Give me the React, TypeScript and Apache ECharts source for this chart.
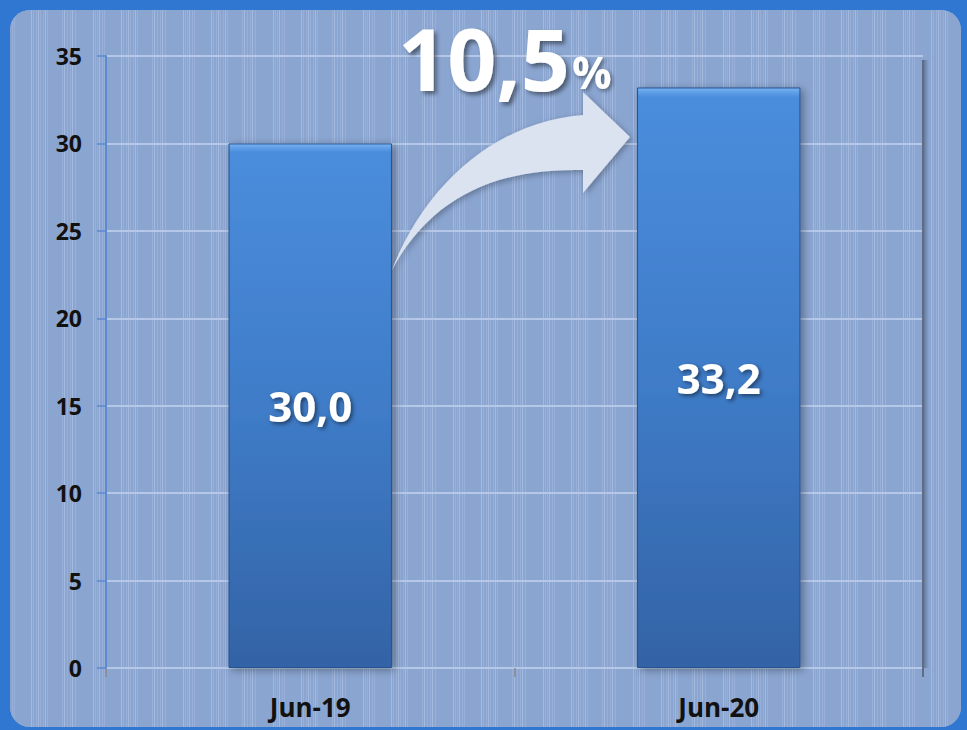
import React, { useEffect, useRef } from "react";
import * as echarts from "echarts";

const categories = ["Jun-19", "Jun-20"];
const values = [30.0, 33.2];
const yMin = 0;
const yMax = 35;
const yStep = 5;
const growthValue = "10,5";
const growthUnit = "%";

const arrowPath =
  "M392,270 C425,185 495,122 583,115 L583,92 L630,137 L583,193 L583,170 C500,168 432,195 392,270 Z";
echarts.graphic.registerShape("growthArrow", echarts.graphic.extendPath(arrowPath, {}) as any);

// background texture: offsets (px) of thin light lines inside one 90px repeat
const stripeOffsets = [3, 5, 7, 9, 12, 14, 31, 33, 36, 38, 40, 43, 45, 47, 62, 64, 67, 70, 72, 75];
const stripeRepeat = 90;

function makeStripes(): string | null {
  try {
    const c = document.createElement("canvas");
    c.width = stripeRepeat;
    c.height = 4;
    const ctx = c.getContext("2d");
    if (!ctx) return null;
    ctx.fillStyle = "#8aa5d0";
    ctx.fillRect(0, 0, stripeRepeat, 4);
    stripeOffsets.forEach((x, i) => {
      ctx.fillStyle = i % 3 === 0 ? "#a3b9de" : "#98b0d9";
      ctx.fillRect(x, 0, 1, 4);
    });
    return c.toDataURL();
  } catch (e) {
    return null;
  }
}

const fmt = (v: number) => v.toFixed(1).replace(".", ",");

export default function App() {
  const ref = useRef<HTMLDivElement>(null);
  useEffect(() => {
    if (!ref.current) return;
    const chart = echarts.init(ref.current, null, { renderer: "svg" });
    const font = "'Open Sans', 'Liberation Sans', sans-serif";
    const stripes = makeStripes();
    const panelFill: any = stripes ? { image: stripes, repeat: "repeat" } : "#8ca7d2";
    const textShadow = {
      textShadowColor: "rgba(0,0,0,0.45)",
      textShadowBlur: 4,
      textShadowOffsetX: 3,
      textShadowOffsetY: 3,
    };
    chart.setOption({
      animation: false,
      backgroundColor: "#2f77d1",
      textStyle: { fontFamily: font },
      grid: { left: 106, top: 56, right: 44, bottom: 62, containLabel: false },
      graphic: [
        {
          id: "panelBase",
          type: "rect",
          z: -10,
          silent: true,
          shape: { x: 10, y: 10, width: 951, height: 717, r: 20 },
          style: { fill: "#8aa5d0" },
        },
        {
          id: "panelTexture",
          type: "rect",
          z: -9,
          silent: true,
          shape: { x: 10, y: 10, width: 951, height: 717, r: 20 },
          style: { fill: panelFill },
        },
        {
          id: "arrow",
          type: "growthArrow",
          x: 0,
          y: 0,
          z: 20,
          style: {
            fill: "#dbe2f0",
            shadowBlur: 6,
            shadowColor: "rgba(0,0,0,0.3)",
            shadowOffsetX: 2,
            shadowOffsetY: 2,
          },
        },
        {
          id: "growth",
          type: "text",
          x: 398,
          y: 57,
          z: 20,
          style: {
            text: `{a|${growthValue}}{b|${growthUnit}}`,
            verticalAlign: "middle",
            align: "left",
            rich: {
              a: {
                fontSize: 86,
                fontWeight: "bold",
                fill: "#ffffff",
                fontFamily: font,
                ...textShadow,
                verticalAlign: "bottom",
              },
              b: {
                fontSize: 44,
                fontWeight: "bold",
                fill: "#ffffff",
                fontFamily: font,
                ...textShadow,
                textShadowOffsetX: 2,
                textShadowOffsetY: 2,
                verticalAlign: "bottom",
                padding: [0, 0, 6, 2],
              },
            },
          },
        },
      ],
      xAxis: {
        type: "category",
        data: categories,
        axisLine: {
          show: true,
          lineStyle: {
            color: "#7b7b7b",
            width: 2,
            shadowColor: "rgba(0,0,0,0.35)",
            shadowBlur: 4,
            shadowOffsetY: 3,
          },
        },
        axisTick: { show: true, length: 9, lineStyle: { color: "#8a8a8a", width: 1.5 } },
        axisLabel: {
          color: "#111111",
          fontSize: 26,
          fontWeight: "bold",
          fontFamily: font,
          margin: 26,
        },
      },
      yAxis: {
        type: "value",
        min: yMin,
        max: yMax,
        interval: yStep,
        axisLine: { show: true, onZero: false, lineStyle: { color: "#5b8ad0", width: 2 } },
        axisTick: { show: true, length: 9, lineStyle: { color: "#5b8ad0", width: 1.5 } },
        axisLabel: {
          color: "#111111",
          fontSize: 23,
          fontWeight: "bold",
          fontFamily: font,
          margin: 24,
        },
        splitLine: { show: true, lineStyle: { color: "#b5c8e8", width: 2 } },
      },
      series: [
        {
          type: "bar",
          data: values,
          barWidth: "40%",
          itemStyle: {
            color: new echarts.graphic.LinearGradient(0, 0, 0, 1, [
              { offset: 0, color: "#78b4f4" },
              { offset: 0.008, color: "#5f9ee6" },
              { offset: 0.016, color: "#4a8ddc" },
              { offset: 0.5, color: "#3f7cc8" },
              { offset: 1, color: "#3363a6" },
            ]),
            borderColor: "#26528f",
            borderWidth: 1,
            shadowBlur: 8,
            shadowColor: "rgba(0,0,0,0.35)",
            shadowOffsetX: 3,
            shadowOffsetY: 2,
          },
          label: {
            show: true,
            position: "inside",
            formatter: (p: any) => fmt(p.value),
            color: "#ffffff",
            fontSize: 42,
            fontWeight: "bold",
            fontFamily: font,
            textShadowColor: "rgba(0,0,0,0.5)",
            textShadowBlur: 4,
            textShadowOffsetX: 2,
            textShadowOffsetY: 2,
          },
        },
      ],
    });

    // right wall edge of the plot area, placed from the axes' own scales
    const c0 = chart.convertToPixel({ xAxisIndex: 0 }, categories[0]) as number;
    const c1 = chart.convertToPixel({ xAxisIndex: 0 }, categories[categories.length - 1]) as number;
    const band = categories.length > 1 ? (c1 - c0) / (categories.length - 1) : 0;
    const rightX = c1 + band / 2;
    const yTop = chart.convertToPixel({ yAxisIndex: 0 }, yMax) as number;
    const yBottom = chart.convertToPixel({ yAxisIndex: 0 }, yMin) as number;
    if (isFinite(rightX) && isFinite(yTop) && isFinite(yBottom)) {
      chart.setOption({
        graphic: [
          {
            id: "wallShadow",
            type: "rect",
            z: 5,
            silent: true,
            shape: { x: rightX, y: yTop + 4, width: 6, height: yBottom - yTop - 4 },
            style: {
              fill: new echarts.graphic.LinearGradient(0, 0, 1, 0, [
                { offset: 0, color: "rgba(60,70,95,0.55)" },
                { offset: 1, color: "rgba(60,70,95,0)" },
              ]),
            },
          },
          {
            id: "wallEdge",
            type: "line",
            z: 6,
            silent: true,
            shape: { x1: rightX, y1: yTop + 4, x2: rightX, y2: yBottom + 9 },
            style: { stroke: "#5e6c86", lineWidth: 2 },
          },
        ],
      });
    }
    return () => chart.dispose();
  }, []);
  return (
    <div
      ref={ref}
      style={{ position: "fixed", left: 0, top: 0, width: 967, height: 730 }}
    />
  );
}
